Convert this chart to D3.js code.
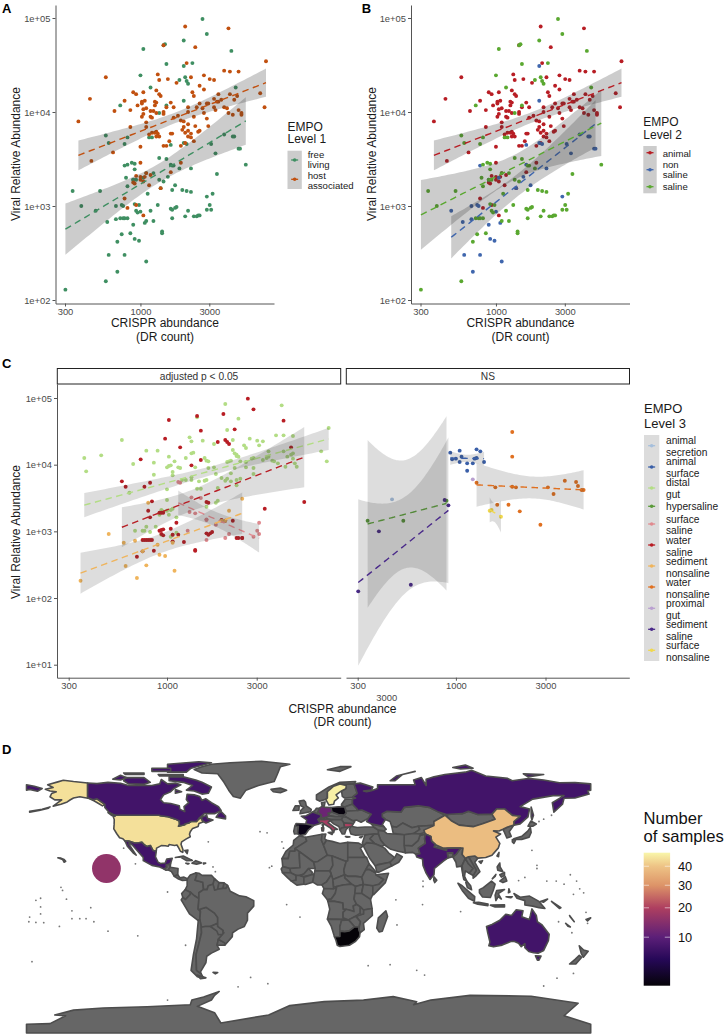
<!DOCTYPE html>
<html><head><meta charset="utf-8">
<script src="https://cdn.jsdelivr.net/npm/d3@7"></script>
<style>html,body{margin:0;padding:0;background:#fff}svg{display:block;font-family:"Liberation Sans",Arial,sans-serif}</style>
</head><body><svg id="c" width="726" height="1036"></svg>
<script>
// All scatter values are [log10(DR count), log10(viral relative abundance)].
// Panels A & B
const animalPts=[[3.31,4.91],[3.61,4.89],[3.38,4.69],[3.16,4.71],[3.87,4.54],[3.32,4.52],[3.58,4.44],[3.62,4.43],[3.68,4.43],[3.12,4.40],[3.44,4.39],[2.76,4.37],[3.13,4.34],[3.19,4.35],[3.35,4.37],[3.48,4.35],[3.51,4.34],[3.25,4.31],[3.41,4.28],[3.44,4.24],[2.65,4.14],[3.36,4.21],[3.37,4.17],[3.54,4.19],[2.95,4.21],[2.97,4.19],[3.02,4.21],[2.89,4.12],[3.11,4.23],[3.13,4.19],[3.14,4.17],[3.01,4.11],[3.03,4.12],[2.98,4.07],[3.01,4.09],[3.10,4.11],[3.11,4.10],[3.10,4.07],[3.21,4.10],[3.18,4.05],[3.16,4.00],[3.23,4.05],[3.02,4.03],[3.04,4.04],[3.07,4.01],[3.09,4.01],[2.93,4.02],[2.82,4.01],[3.02,3.98],[3.01,3.95],[3.07,3.95],[3.08,3.94],[3.11,3.99],[3.04,3.89],[3.04,3.84],[2.93,3.84],[2.57,3.90],[3.16,3.98],[3.23,3.94],[3.26,3.96],[3.33,4.05],[3.33,4.00],[3.37,3.95],[3.39,4.05],[3.43,4.04],[3.46,4.09],[3.47,4.09],[3.51,4.05],[3.52,4.02],[3.54,4.11],[3.56,4.13],[3.58,4.05],[3.60,4.04],[3.61,3.99],[3.64,3.97],[3.65,4.13],[3.67,4.17],[3.62,4.19],[3.68,4.02],[3.70,3.97],[3.86,4.05],[3.83,4.20],[3.70,3.99],[3.46,3.93],[3.47,3.85],[3.41,4.09],[3.44,3.99],[3.51,4.14],[3.53,4.11],[3.28,3.91],[3.30,3.90],[3.33,3.87],[3.38,3.85],[3.30,3.84],[3.29,3.81],[3.33,3.80],[3.35,3.77],[3.40,3.79],[3.41,3.80],[3.31,3.78],[3.33,3.74],[3.35,3.73],[3.37,3.69],[3.31,3.67],[3.28,3.64],[3.21,3.77],[3.22,3.77],[3.20,3.69],[3.16,3.64],[3.18,3.64],[3.08,3.78],[3.10,3.78],[3.11,3.79],[3.12,3.77],[3.06,3.76],[3.13,3.74],[3.11,3.74],[3.00,3.63],[2.81,3.57],[2.66,3.48],[3.00,3.46],[3.28,3.46],[3.21,3.36],[2.97,3.32],[3.00,3.31],[3.03,3.31],[3.04,3.35],[3.07,3.33],[3.00,3.28],[2.96,3.24],[2.95,3.25],[3.02,3.26],[3.06,3.22],[3.14,3.19],[2.89,3.08],[2.91,2.98],[2.97,3.01],[3.02,2.90]];
const nonSalinePts=[[3.30,4.49],[3.30,4.12],[2.89,3.43],[3.21,3.65],[3.30,3.67],[3.32,3.66],[2.69,2.95],[2.83,3.00],[2.87,3.01],[2.88,3.00],[2.77,2.83],[2.83,2.86],[2.95,2.80],[3.03,2.82],[3.00,2.94],[2.78,2.48],[2.89,2.48],[2.84,2.30],[2.96,2.65],[2.99,2.63],[3.04,2.41],[3.14,3.19],[3.19,3.31],[3.24,3.22],[3.46,3.10],[3.52,3.56],[3.65,3.74],[3.68,3.61],[3.69,3.61],[3.02,3.30],[2.95,3.28],[3.21,3.44],[3.35,3.40],[3.49,3.66],[3.58,3.76],[3.64,3.74]];
const salinePts=[[3.43,4.99],[3.46,4.83],[3.30,4.76],[3.63,4.65],[3.17,4.72],[3.16,4.71],[3.02,4.67],[3.18,4.51],[3.36,4.52],[3.00,4.39],[3.31,4.37],[3.27,4.34],[3.32,4.33],[3.33,4.30],[3.66,4.26],[3.07,4.26],[2.86,4.07],[3.18,4.07],[3.13,3.99],[2.76,3.75],[2.78,3.67],[2.89,3.66],[2.91,3.73],[3.06,3.73],[3.08,3.73],[3.13,3.51],[3.18,3.50],[2.90,3.30],[2.91,3.44],[2.94,3.46],[2.96,3.45],[2.96,3.39],[2.97,3.28],[2.95,3.28],[2.91,3.21],[3.09,3.35],[3.04,3.35],[3.13,3.28],[3.16,3.26],[3.22,3.43],[3.23,3.43],[3.27,3.40],[2.53,3.16],[2.72,3.16],[2.59,3.00],[3.22,3.17],[3.29,3.17],[3.32,3.16],[3.35,3.15],[3.05,3.13],[3.12,3.01],[3.50,3.13],[3.48,3.01],[3.46,2.96],[3.49,2.96],[2.96,3.02],[2.99,3.01],[2.97,2.95],[2.98,2.93],[3.07,2.95],[2.86,2.87],[2.88,2.87],[2.89,2.87],[2.91,2.87],[3.22,2.87],[3.31,2.89],[3.33,2.95],[3.37,2.89],[3.39,2.89],[3.40,2.90],[3.41,2.90],[3.21,2.97],[3.22,2.96],[3.24,2.98],[3.25,2.99],[3.09,2.84],[3.04,2.84],[2.93,2.71],[2.87,2.70],[3.15,2.73],[3.15,2.71],[2.84,2.62],[2.76,2.20],[2.48,2.11],[3.73,3.44],[3.53,3.34]];
// Panel C, facet "adjusted p < 0.05"
const distalGut=[[3.31,4.91],[3.61,4.89],[3.38,4.69],[3.16,4.71],[3.86,4.55],[3.32,4.52],[3.58,4.44],[3.62,4.44],[3.67,4.43],[3.12,4.41],[3.44,4.39],[2.76,4.37],[3.13,4.35],[3.19,4.36],[3.35,4.37],[3.48,4.36],[3.51,4.35],[3.25,4.31],[3.41,4.29],[3.42,4.25],[2.65,4.14],[2.56,4.10],[2.57,3.90],[2.82,4.01],[2.89,4.21],[2.95,4.21],[2.93,4.03],[2.93,3.85],[3.01,4.12],[3.00,3.96],[3.01,3.98],[3.02,3.99],[3.03,3.89],[3.03,3.84],[3.04,4.05],[3.06,3.96],[3.07,3.95],[3.10,4.10],[3.13,4.17],[3.14,4.18],[3.15,3.96],[3.20,4.10],[3.22,4.05],[3.21,4.06],[3.22,3.95],[3.25,3.96],[3.26,3.86],[3.29,3.80],[3.31,3.76],[3.32,3.79],[3.34,3.87],[3.34,3.75],[3.36,3.95],[3.37,4.15],[3.37,4.13],[3.35,4.22],[3.36,4.17],[3.38,4.12],[3.32,4.04],[3.33,4.05],[3.34,4.06],[3.39,4.05],[3.42,4.04],[3.45,4.09],[3.46,4.10],[3.42,3.96],[3.46,3.95],[3.46,3.86],[3.39,3.79],[3.37,3.77],[3.37,3.69],[3.27,3.65],[3.27,3.46],[3.26,3.43],[3.21,3.37],[3.18,3.64],[3.16,3.64],[3.13,3.77],[3.13,3.81],[3.10,3.77],[3.08,3.77],[3.17,3.75],[3.20,3.76],[3.21,3.77],[3.00,3.63],[3.00,3.47],[2.80,3.58],[2.97,3.32],[2.96,3.25],[2.98,3.30],[3.00,3.31],[3.02,3.32],[3.03,3.34],[3.01,3.25],[3.05,3.21],[2.97,2.95],[2.89,3.07],[2.88,3.01],[2.87,3.01],[2.94,3.07],[2.91,2.99],[2.83,3.01],[3.03,2.95],[3.02,2.92],[3.05,2.98],[3.54,4.20],[3.49,4.29],[3.51,4.07],[3.53,4.10],[3.54,4.12],[3.56,4.06],[3.57,4.05],[3.59,4.02],[3.62,4.20],[3.63,3.97],[3.64,4.12],[3.66,4.15],[3.67,4.17],[3.67,4.09],[3.68,4.02],[3.69,3.97],[3.82,4.20],[3.85,4.05]];
const waterSaline=[[3.43,4.99],[3.46,4.83],[3.30,4.76],[3.62,4.66],[3.16,4.73],[3.01,4.67],[3.18,4.51],[3.36,4.53],[2.99,4.39],[3.27,4.34],[3.31,4.37],[3.32,4.34],[3.33,4.31],[3.07,4.26],[2.86,4.08],[3.13,3.99],[3.18,4.07],[2.76,3.75],[2.78,3.67],[2.88,3.67],[2.91,3.73],[3.66,4.26],[3.73,3.44],[3.52,3.34],[2.92,3.45],[2.90,3.31],[2.91,3.21],[2.96,3.01],[2.97,3.02],[2.96,3.28],[2.97,3.28],[2.98,3.28],[2.98,3.03],[3.02,3.04],[3.05,3.13],[3.03,2.95],[3.03,2.85],[3.06,2.95],[3.09,2.84],[2.93,2.71],[2.84,2.62],[2.87,2.70],[2.87,2.87],[2.88,2.87],[2.89,2.87],[2.90,2.87],[2.91,2.87],[2.92,2.87],[2.97,2.96],[2.98,2.94],[3.15,2.72],[3.15,2.71],[3.21,2.97],[3.22,2.95],[3.23,2.97],[3.24,2.99],[3.21,3.44],[3.22,3.43],[3.29,3.17],[3.31,3.16],[3.35,3.16],[3.37,2.90],[3.38,2.90],[3.40,2.90],[3.40,2.90]];
const surfaceSaline=[[3.07,3.73],[3.06,3.74],[3.13,3.51],[3.18,3.50],[3.12,3.29],[3.15,3.27],[3.21,3.17],[3.21,3.18],[3.21,2.87],[3.26,3.10],[3.31,2.90],[3.33,2.96],[3.46,2.92],[3.48,3.01],[3.49,2.96],[3.49,3.13],[3.11,3.01]];
const sedimentNonsaline=[[2.54,2.26],[2.69,2.96],[2.77,2.83],[2.78,2.48],[2.89,2.49],[2.84,2.30],[2.83,2.86],[2.90,3.43],[2.95,2.80],[2.96,2.65],[2.99,2.63],[3.04,2.41],[3.03,2.83],[2.87,2.70],[3.33,3.31],[3.40,3.49],[3.29,3.16],[3.31,3.16]];
// Panel C, facet "NS"
const animalSecretion=[[2.66,3.48]];
const animalSurface=[[2.97,4.18],[2.98,4.08],[3.00,4.09],[3.02,4.04],[3.03,4.12],[3.02,4.21],[3.06,4.02],[3.09,4.02],[3.06,3.91],[3.10,4.09],[3.11,4.10],[3.11,4.23],[3.13,4.20],[3.15,4.04]];
const hypersaline=[[2.53,3.16],[2.72,3.16],[2.95,3.46]];
const waterNonsaline=[[3.30,4.49],[3.30,4.12],[3.11,3.73],[3.21,3.66],[3.22,3.40],[3.28,3.40],[3.30,3.67],[3.32,3.66],[3.34,3.30],[3.45,3.10],[3.49,3.66],[3.52,3.56],[3.58,3.76],[3.64,3.74],[3.65,3.68],[3.67,3.62],[3.68,3.62]];
const proximalGut=[[3.09,3.78]];
const sedimentSaline=[[2.48,2.10],[2.59,3.00],[2.76,2.20],[2.94,3.47],[2.96,3.39]];
const surfaceNonsaline=[[3.18,3.31],[3.19,3.32],[3.24,3.22]];

const xTicks=[300,1000,3000], yTicksAB=[1e2,1e3,1e4,1e5], yTicksC=[1e1,1e2,1e3,1e4,1e5];
const legend1=[["free","living"],["host","associated"]];
const legend2=[["animal"],["non","saline"],["saline"]];
const legend3=[["animal","secretion"],["animal","surface"],["distal","gut"],["hypersaline"],["surface","saline"],["water","saline"],["sediment","nonsaline"],["water","nonsaline"],["proximal","gut"],["sediment","saline"],["surface","nonsaline"]];

// Map: sample count per region and outlines [lon,lat]
const legendTicks=[10,20,30,40];
const sampledRegions=[
["USA",44.5,[[[-124.7,48.4],[-123,49],[-95.2,49],[-94.6,48.7],[-89.6,48],[-84.9,46.5],[-82.5,45.3],[-82.4,43],[-83,42],[-79,42.9],[-79,43.4],[-76.5,44],[-75,45],[-71.5,45],[-70,46.7],[-68.3,47.3],[-67.8,45.7],[-67,44.8],[-70,43.7],[-70.5,41.8],[-74,40.6],[-75.5,38.5],[-76,36.9],[-75.5,35.3],[-78,33.9],[-81,32],[-81.4,30.5],[-80.1,26.8],[-80.3,25.3],[-81.8,26],[-82.8,28],[-84,30],[-85.5,29.7],[-89,30.3],[-89.5,29.2],[-91.5,29.5],[-94,29.6],[-97,28],[-97.2,26],[-99.3,26.5],[-101,29.7],[-103,29],[-104.7,30],[-106.5,31.8],[-108.2,31.4],[-111,31.3],[-114.8,32.5],[-117.1,32.5],[-118.5,34],[-120.6,34.6],[-122.4,37.2],[-124.3,40.3],[-124.1,43],[-124,46.2]],
 [[-141,69.6],[-141,60.2],[-137.5,58.9],[-135,59.5],[-130,55.9],[-131.5,55],[-134,56.5],[-137,58.2],[-140,59.7],[-146,60.8],[-150,60],[-152,58.9],[-154,57.5],[-158,56],[-163,54.8],[-160,57],[-157.5,58.8],[-162,58.8],[-165,60.8],[-164,62.8],[-161,64],[-165,64.5],[-168,65.6],[-163,66.7],[-166.5,68.4],[-160,70.3],[-156.5,71.3],[-150,70.5]],
 [[-178,51.5],[-170,52.8],[-165,54.3],[-166,53.5],[-172,52],[-178,51]],[[-160,21.9],[-158,21.6],[-156,20.8],[-155,19.6],[-156,19],[-157,20.8]]]],
["Canada",7.3,[[[-141,69.6],[-135,69.2],[-128,70],[-120,69.4],[-115,68],[-108,68],[-100,68],[-95,69],[-94,71.8],[-90,69],[-85,69.5],[-81.5,68.5],[-86,66],[-88,64],[-92.5,62],[-94.5,59],[-92.5,57],[-88,56.5],[-82.5,55],[-82.2,52.9],[-79,51.3],[-79.5,54.5],[-76.5,57],[-78,59],[-77.5,62.4],[-73,62],[-69.5,61],[-68,58.5],[-65.5,59.5],[-62,57],[-57.5,54.5],[-55.8,52],[-60,50],[-66.5,50],[-70,47],[-65,49],[-64.5,47],[-61,46],[-65.5,44],[-67,45],[-67.8,45.7],[-68.3,47.3],[-70,46.7],[-71.5,45],[-75,45],[-76.5,44],[-79,43.4],[-79,42.9],[-83,42],[-82.4,43],[-82.5,45.3],[-84.9,46.5],[-89.6,48],[-94.6,48.7],[-95.2,49],[-123,49],[-124.7,49.5],[-127.5,51],[-130,54],[-130,55.9],[-135,59.5],[-137.5,58.9],[-141,60.2]],
 [[-80,73.5],[-72,71.5],[-68,70],[-62,67],[-64,63],[-68,62.5],[-73,64.5],[-78,65],[-74,68],[-80,70],[-89,71],[-89,73.5]],[[-117,73],[-105,73],[-101,70],[-105,68.7],[-115,69],[-118,71]],[[-90,76.5],[-78,76.5],[-75,79],[-62,82.5],[-70,83.1],[-90,81.5]],[[-125,72],[-120,74.5],[-116,73],[-120,71.5]],[[-96,75],[-80,75],[-80,74],[-95,74]],[[-118,76],[-105,76],[-105,75],[-117,75]],[[-100,79],[-88,79],[-88,77],[-100,77]],[[-59,47.7],[-53,46.7],[-53,48.5],[-56,51.5],[-57.5,50]],[[-128,50.7],[-124,49],[-123.5,48.4],[-125.5,48.8]],[[-85,65.5],[-81,64],[-85,63]]]],
["Mexico",7.3,[[[-117.1,32.5],[-114.8,32.5],[-111,31.3],[-108.2,31.4],[-106.5,31.8],[-104.7,30],[-103,29],[-101,29.7],[-99.3,26.5],[-97.2,26],[-97.7,22.5],[-96,19],[-94.5,18.2],[-91.5,18.5],[-90.5,21],[-87,21.5],[-88,18.5],[-89,17.9],[-91,17.2],[-90.5,16],[-92.2,14.6],[-95,16],[-100,17],[-105.5,20],[-105.5,22],[-109,26],[-112.5,30],[-114.6,31.5],[-114.6,30.5],[-110,23.5],[-112,25],[-115.5,29]]]],
["Russia",7.3,[[[28,59.4],[30,60],[28,60.5],[31,63],[29,69],[33,69.5],[41,67],[40,65],[35,64.5],[37,64],[40,64.6],[44,66],[44,68.5],[54,68.5],[60,68.5],[68,68.5],[67,71.5],[72,73],[75,68],[75,72],[80,73.5],[87,75],[100,76.5],[104,77.7],[113,74],[127,72.5],[130,71],[140,72.5],[150,71.5],[160,69.7],[170,69.8],[180,69],[180,65],[178,64.5],[179,62.5],[170,60],[163,59.8],[162,56],[156.5,51],[155.5,57],[163,61.5],[156,61.5],[143,59.3],[135,54.5],[141,53],[140,48],[135,43.5],[131,42.7],[131,45],[135,48.4],[130,48.9],[125,53],[120,53],[117,49.7],[108,49.5],[102,51.5],[98,50],[88,49.5],[83,51],[77,54],[70,55],[61,54],[59,51],[50,51.5],[47,50],[47,48],[49,46.3],[47,43],[48,41.8],[40,43.5],[37,45],[38,47],[40,49.6],[34,52.3],[31,52],[31,53],[28,56]],
 [[-180,68.5],[-175,67.5],[-170,66],[-173,64.3],[-178,65.5],[-180,65]],[[142,54.3],[143.5,49],[142.5,46],[142,48]],[[52,71],[56,74],[68,77],[60,75],[55,71]],[[137,75.5],[150,75],[140,73.5]],[[92,79.5],[100,81],[105,79],[97,78.5]]]],
["China",38.5,[[[73.5,39.5],[80,42.5],[80,45],[87,49],[91,45.5],[96,42.7],[105,41.7],[111,43.5],[119,46.5],[117,49.7],[120,53],[125,53],[130,48.9],[135,48.4],[131,45],[131,42.7],[127,41.5],[124,40],[121.5,38.9],[118,39],[122.5,37],[119.5,35],[122,31],[121,28],[117,23.5],[113,22],[108,21.6],[106,23],[102,22.5],[100,21.5],[98,24],[98.5,28],[92,28],[86,28],[81,30.2],[78.5,32.5],[78,35.5],[74.5,37]]]],
["India",7.6,[[[74.5,37],[78,35.5],[78.5,32.5],[81,30.2],[80,28.7],[88,26.5],[88.2,27.9],[92,28],[97,28],[94,24],[92,22.5],[92,25],[88.5,25],[89,21.8],[86,19.7],[80.3,15],[80,11],[77.5,8],[75,12],[73,17],[72.7,21],[69,22.3],[68.5,24],[71,24.5],[70,28],[74.5,31],[74,34]]]],
["Australia",7.3,[[[113.5,-22],[114.3,-26],[115.7,-32],[115,-34.3],[118,-35],[123.5,-33.9],[129,-31.6],[131,-31.5],[134,-32.7],[135.7,-34.9],[138,-33],[138,-35.6],[140.5,-38],[143.5,-38.8],[146.4,-39.1],[150,-37.3],[153,-31],[153.5,-27],[149,-21],[146,-19],[145.3,-15],[142.5,-10.8],[141.5,-15],[140.8,-17.5],[136,-15.8],[136.8,-12],[132.5,-11.3],[129.5,-15],[125.8,-14.2],[122,-18],[117,-20.7]],[[144.7,-40.7],[148.3,-40.9],[147,-43.5],[146,-43.5]]]],
["Sweden",47,[[[11,59],[12,60],[12,64],[16,67.5],[20,69],[24,68],[23.8,66],[21,64.5],[17.5,62],[19,60],[16.5,58],[16,56],[13,55.5]]]],
["Germany",11.6,[[[6,51],[7,53.5],[8.7,54.8],[11,54],[14.2,53.9],[15,51],[12.3,50.3],[13.5,48.6],[10,47.4],[7.5,47.5],[8.2,49]]]],
["France",7,[[[-1.8,43.4],[-1.2,46],[-4.7,48.4],[-1.5,48.7],[2.5,51],[8.2,49],[7.5,47.5],[6,46.3],[7.5,43.8],[3.2,42.4]]]],
["Spain",1.5,[[[-8.8,42],[-8,43.7],[-1.8,43.4],[3.2,42.4],[0,39.7],[-2,36.8],[-5.5,36],[-7,37.2],[-6.5,42]]]],
["Poland",1.2,[[[14.2,53.9],[19,54.4],[23,54.3],[24,50.5],[22.7,49.1],[19,49.4],[15,51]]]],
["South Africa",1,[[[16.5,-28.6],[20,-28.4],[20,-25],[23,-25.3],[26,-24.8],[29.3,-22.2],[32,-22.3],[32,-24],[32.8,-26],[32.5,-28.5],[30,-31.5],[26,-34],[20,-34.8],[18.3,-34],[17.5,-31]]]],
["Italy",19,[[[7.5,43.8],[6,46.3],[10,46.2],[13,46.5],[13.7,45.6],[12.4,44.3],[16,41.5],[18.5,40],[16.5,39.7],[16,38],[14,40.8],[10.5,43],[8.5,44.4]],[[12.5,38],[15.6,38.2],[15,36.7]],[[8.3,41],[9.7,41],[9.5,39],[8.5,39]]]],
["Bulgaria",20,[[[22.5,44],[28.5,43.6],[27.7,42],[26,41.7],[23,41.3]]]]
];
const oceanSite=[-129,15,16];
const greyLand=[
[[-73,78.2],[-68,76],[-58,75.5],[-54,70],[-51,65],[-48,61],[-43.5,59.9],[-40,65],[-32,68],[-22,70.5],[-20,75],[-18,80],[-12,81.5],[-30,83.5],[-50,82.5],[-62,81.5],[-68,80]],
[[-92.2,14.6],[-90.5,16],[-91,17.2],[-89,17.9],[-88.3,15.8],[-89.5,14],[-91,13.9]],[[-89,17.9],[-88,18.5],[-88.3,15.8]],[[-88.3,15.8],[-83.3,15],[-83.5,11],[-85.7,10],[-87.5,13],[-89.5,14]],[[-83.5,11],[-82,9],[-79.5,9.5],[-77.3,8.5],[-78,7.5],[-80.5,7.3],[-83,8.3],[-85.7,10]],
[[-85,22],[-80,23],[-74.2,20.2],[-77.7,19.9],[-82,22.4]],[[-74.4,18.4],[-72,20],[-68.4,18.6],[-71.5,17.7]],[[-78.3,18.4],[-76.3,18.2],[-77,17.8]],[[-67.2,18.5],[-65.7,18.4],[-67,17.9]],[[-79,26.5],[-77,26.7],[-77.5,24.5]],
[[-77.3,8.5],[-75.5,10.8],[-72,12.2],[-71.3,11],[-72.4,7.5],[-67.5,6.2],[-67,1.5],[-70,-0.5],[-70,-4.2],[-72.9,-2.4],[-75.5,-0.1],[-78.8,1.4],[-77.5,4],[-77.5,7]],
[[-71.3,11],[-72,12.2],[-70,12],[-68,10.6],[-62,10.7],[-60,8.5],[-61,5],[-64,4],[-64.8,1.5],[-67,1.5],[-67.5,6.2],[-72.4,7.5]],
[[-60,8.5],[-57.2,6],[-58,1.5],[-60,1.2],[-61,5]],[[-57.2,6],[-54,5.8],[-54.5,2.3],[-58,1.8]],[[-54,5.8],[-51.7,4.2],[-52.8,2.2],[-54.5,2.3]],
[[-78.8,1.4],[-75.5,-0.1],[-75.5,-1.5],[-78.5,-4.8],[-80.3,-3.4],[-81,-1]],
[[-75.5,-0.1],[-72.9,-2.4],[-70,-4.2],[-70.5,-11],[-69,-12.5],[-69.4,-17.5],[-70.4,-18.3],[-76,-14],[-81.3,-5],[-80.3,-3.4],[-78.5,-4.8],[-75.5,-1.5]],
[[-69.4,-11],[-65.3,-9.8],[-60,-13.5],[-58,-16.3],[-58,-20],[-62.6,-22],[-66,-22],[-68.5,-22.5],[-69.4,-17.5],[-69,-12.5]],
[[-69.4,-17.5],[-68.5,-22.5],[-68.3,-26],[-70,-33],[-71.8,-40],[-71.5,-50],[-68.5,-52.3],[-67,-55],[-71,-54],[-75,-50],[-73.5,-40],[-71.5,-30],[-70.4,-18.3]],
[[-66,-22],[-62.6,-22],[-57.6,-25.3],[-54,-26],[-57.6,-30.2],[-58.4,-34],[-57,-36.5],[-62,-39],[-65,-41],[-65.5,-45],[-69,-51],[-68.5,-52.3],[-71.5,-50],[-71.8,-40],[-70,-33],[-68.3,-26],[-68.5,-22.5]],
[[-58,-20],[-58,-22],[-54.5,-24.5],[-54.6,-27],[-57.6,-27.3],[-58.5,-25],[-62.6,-22]],[[-57.6,-30.2],[-53.5,-32.5],[-53.5,-34],[-58.4,-34]],
[[-64,4],[-61,5],[-60,1.2],[-58,1.8],[-54.5,2.3],[-52.8,2.2],[-51.7,4.2],[-50,0.5],[-44,-2.5],[-40,-3],[-35,-5.5],[-35,-9],[-39,-13.5],[-39,-18],[-41,-22],[-45,-23.7],[-48.5,-26],[-48.7,-28.5],[-53.5,-34],[-53.5,-32.5],[-57.6,-30.2],[-54,-26],[-54.6,-25.5],[-54.5,-24.5],[-58,-22],[-58,-16.3],[-60,-13.5],[-65.3,-9.8],[-69.4,-11],[-70.5,-11],[-70,-4.2],[-70,-0.5],[-67,1.5],[-64.8,1.5]],
[[-61,-51.3],[-58,-51.4],[-59.5,-52.3]],[[-71,-53],[-65.5,-54.8],[-69,-55.3]],
[[-5.9,35.8],[-2,35],[-1.2,32.5],[-8.7,27.7],[-8.7,26],[-12,26],[-13,21.3],[-17,21.3],[-14.5,26],[-9.8,30],[-9.5,33]],
[[-2,35],[8.6,36.9],[8.2,33],[9.5,30],[12,23.5],[6,19.5],[3.3,19],[-4.8,25],[-8.7,27.7],[-1.2,32.5]],[[8.6,36.9],[11,37],[10.2,34],[11.5,33],[9.5,30],[8.2,33]],[[11.5,33],[15,32.3],[20,31],[25,31.7],[25,20],[24,19.5],[15,23],[12,23.5],[9.5,30]],[[25,31.7],[32,31.2],[34.9,29.5],[33,28],[35.7,23],[37,22],[25,22]],
[[-17,21.3],[-13,21.3],[-12,26],[-8.7,26],[-8.7,27.7],[-4.8,25],[-6,25],[-5.5,15.5],[-12,15],[-16.5,16.2]],[[-4.8,25],[3.3,19],[4.2,15],[0,15],[-3,11.5],[-5.5,10.5],[-8,10.5],[-11.5,12.3],[-12,15],[-5.5,15.5],[-6,25]],[[3.3,19],[6,19.5],[12,23.5],[15,23],[15.5,17],[13.6,13.5],[4,13.5],[4.2,15]],[[15,23],[24,19.5],[22.5,14],[23,11],[15.5,8],[13.6,13.5],[15.5,17]],
[[24,19.5],[25,20],[25,22],[37,22],[38.6,18],[36.5,14.3],[34,9.5],[30,10],[25,10],[23,11],[22.5,14]],[[23,9],[27.4,5],[30,3.5],[35,5],[34,9.5],[30,10],[25,10],[23,11]],
[[-17.5,14.7],[-16.5,16.2],[-12,15],[-11.5,12.3],[-16.7,12.4]],[[-16.7,12.4],[-11.5,12.3],[-8,10.5],[-8,7.5],[-11,7],[-13.3,9]],[[-11,7],[-8,7.5],[-8,10.5],[-5.5,10.5],[-3,9.5],[-3,5],[-7.5,4.4]],[[-5.5,10.5],[-3,9.8],[2,11],[2.4,12.5],[0,15],[-3,11.5]],[[-3,9.5],[2,11],[3.6,11.7],[2.7,6.3],[-2,4.8],[-3,5]],[[2.7,6.3],[3.6,11.7],[4,13.5],[13.6,13.5],[14.5,11],[11.5,6.5],[8.5,4.5],[5.5,4.5]],[[8.5,4.5],[11.5,6.5],[14.5,11],[13.6,13.5],[15.5,8],[16,2],[9.8,2.2]],[[15.5,8],[23,11],[23,9],[27.4,5],[22,4.5],[16,3]],[[9.8,2.2],[16,2],[18,3.5],[17,-1],[14.5,-4.5],[12,-5],[8.8,-1]],
[[12,-5],[14.5,-4.5],[17,-1],[18,3.5],[22,4.5],[27.4,5],[30,3.5],[29.5,-1],[29,-4.5],[30.7,-8],[28.5,-9],[29,-12.5],[27,-11.8],[22,-11],[21.8,-7],[16.5,-6],[12.3,-6]],[[30,3.5],[35,5],[34,0],[34,-1],[29.5,-1]],[[35,5],[41,4],[41,-1.5],[39.5,-4.7],[34,-1],[34,0]],[[34,9.5],[36.5,14.3],[38.6,14.5],[42.5,12.5],[43,11],[48,8],[45,5],[42,4],[41,4],[35,5]],[[36.5,14.3],[38.6,18],[43,12.8],[42.5,12.5],[38.6,14.5]],[[43,11],[51,12],[49,6],[41.5,-1.7],[41,-1.5],[41,4],[45,5],[48,8]],[[34,-1],[39.5,-4.7],[40.5,-10.5],[35,-11.5],[33,-9.5],[30.7,-8],[29,-4.5],[29.5,-1]],
[[12.3,-6],[16.5,-6],[21.8,-7],[22,-11],[24,-11],[22,-13],[22,-16.5],[23.4,-17.6],[12,-17.3],[13.5,-11]],[[22,-13],[24,-11],[27,-11.8],[29,-12.5],[28.5,-9],[30.7,-8],[33,-9.5],[33,-13.5],[30,-15.5],[25.5,-17.8],[22,-16.5]],[[40.5,-10.5],[40.7,-15],[35,-20],[35.5,-24],[32.8,-26],[32,-24],[33,-19],[30.5,-15.6],[33,-14.5],[35,-14],[35,-11.5]],[[33,-9.5],[35,-11.5],[35,-14],[33,-14.5]],[[25.5,-17.8],[30,-15.5],[33,-19],[32,-22.3],[29.3,-22.2]],[[12,-17.3],[23.4,-17.6],[25,-17.8],[21,-18.2],[20,-22],[20,-28.4],[16.5,-28.6],[14.5,-22]],[[20,-22],[21,-18.2],[25.5,-17.8],[29.3,-22.2],[26,-24.8],[23,-25.3],[20,-25]],[[49.3,-12],[50.4,-15.7],[47,-25],[45,-25.5],[43.5,-23],[44.5,-16.5]],
[[-9.5,38.7],[-8.8,42],[-6.5,42],[-7,37.2],[-9,37]],[[2.5,51],[4,52],[5,53.4],[7,53.5],[6,51],[5.8,49.5],[8.2,49]],[[-5.5,50],[1.3,51.2],[1.7,52.7],[-1.5,55],[-2,57.5],[-3,58.6],[-6,58],[-5,55],[-3,54],[-5,52]],[[-10,52],[-6.2,52.2],[-6,55],[-8.5,55]],[[-24,65.5],[-18,66.3],[-14,65],[-18,63.4],[-22.5,64]],[[5,59],[5,62],[13,67],[20,70],[30,70.5],[29,69],[24,68.8],[20,69],[16,67.5],[12,64],[12,60],[10.7,59],[7,58]],[[24,68],[24,68.8],[29,69],[31,63],[28,60.5],[23,60],[21.5,61],[21,64.5],[23.8,66]],[[8.7,54.8],[8.2,57],[10.5,57.5],[10,54.9]],[[21,56],[23.5,59.3],[28,59.4],[28,56],[26.5,55.5],[23,54.3],[21,55]],[[23,54.3],[26.5,55.5],[28,56],[31,53],[31,52],[24,51.5]],[[24,50.5],[24,51.5],[31,52],[34,52.3],[40,49.6],[38,47],[33.5,44.5],[30.5,46],[28,45.5],[24,47.8],[22.7,49.1]],[[12.3,50.3],[15,51],[19,49.4],[22.7,49.1],[22,48],[17,48],[13.5,48.6]],[[10,47.4],[13.5,48.6],[17,48],[22,48],[21,46.2],[16.5,46.3],[13,46.5]],[[6,46.3],[7.5,47.5],[10,47.4],[10,46.2]],[[20,39.7],[21,41],[26,41.7],[24,40],[23,37],[21.5,37]],[[22,48],[24,47.8],[28,45.5],[29.5,45],[28.5,43.6],[22.5,44],[21,46.2]],[[13.7,45.6],[16.5,46.3],[21,46.2],[22.5,44],[23,41.3],[21,41],[20,39.7],[19.3,41.8],[16,43.5]],[[23.5,35.4],[26.3,35.2],[24.5,34.9]],[[32.5,35],[34.5,35.6],[33.5,34.6]],[[8.6,43],[9.5,43],[9.3,41.4]],
[[12,78],[20,80],[27,80],[20,77]],
[[47,50],[50,51.5],[59,51],[61,54],[70,55],[77,54],[83,51],[87,49],[80,45],[80,42.5],[70,42],[66,41],[60,44],[56,41.3],[53,42],[52,45],[49,46.3],[47,48]],[[56,41.3],[60,44],[66,41],[70,42],[71,40],[67,37.3],[61,36.5],[54,37.5],[53,42]],[[70,42],[80,42.5],[74,38],[71,37],[67,37.3],[71,40]],[[87.8,49],[92,50.5],[98,50],[102,51.5],[108,49.5],[117,49.7],[119,46.5],[111,43.5],[105,41.7],[96,42.7],[91,45.5]],[[60.9,29.8],[61.7,25],[66.5,25.3],[68.5,24],[71,24.5],[70,28],[74.5,31],[74,34],[74.5,37],[71,36],[70,33],[66,29.5]],[[61,36.5],[67,37.3],[71,37],[74.5,37],[71,36],[70,33],[66,29.5],[60.9,29.8]],[[44.5,39.5],[48,39],[50,37.3],[54,37],[61,36.5],[60.9,29.8],[61.7,25],[57,26],[52,27.5],[48.5,30],[46,33],[44.5,37]],[[39,34],[42,37.2],[44.5,37],[46,33],[48.5,30],[46.5,29],[42,31]],[[34.9,29.5],[37,31.5],[42,31],[46.5,29],[48.5,28],[51,25],[55,22],[52,19],[44,17.3],[42.7,16.5],[39,21.5]],[[42.7,16.5],[44,17.3],[52,19],[53,16.6],[45,12.7],[43.5,12.7]],[[55,22],[56.3,24.5],[59.8,22.5],[57.5,19],[53,16.6],[52,19]],[[36,36.5],[42,37.2],[39,34],[42,31],[37,31.5],[34.9,29.5],[34.3,31.3]],[[26,40],[27,42],[31,41.2],[36,41.5],[41.5,41.5],[44.5,39.5],[44.5,37],[42,37.2],[36,36.5],[30,36.2],[27,37]],[[40,43.5],[48,41.8],[49.5,40],[48,39],[44.5,39.5],[41.5,41.5]],[[80,28.7],[81,30.2],[86,28],[88.2,27.9],[88,26.5]],[[88.5,25],[92,25],[92,22.5],[89,21.8]],[[92,22.5],[94,24],[97,28],[98.5,28],[98,24],[100,21.5],[98,17],[98.5,10.5],[97.5,16.5],[94.5,16],[94,19]],[[100,21.5],[102,18],[105,15],[102.5,12],[100,13.5],[99.5,10],[101,6.8],[99,8],[98.5,10.5],[98,17]],[[102,22.5],[106,23],[108,21.6],[106,19],[109.3,13],[107,10.5],[105,8.8],[105,10.5],[107,14]],[[102,22.5],[107,14],[105,10.5],[102.5,12],[105,15],[102,18],[100,21.5]],[[101,6.8],[103.4,4],[104,1.4],[101.3,2.8],[100.3,6]],[[127,41.5],[131,42.7],[128,38.5],[129.3,35.5],[126.5,34.5],[125,38],[124,40]],[[130.9,34],[136,35.5],[140,39],[141.5,41.3],[142,38],[140.7,35],[136,33.6],[132,33.5]],[[130,33.5],[132,33],[131,31],[130,32]],[[140,42],[141.8,45.3],[145.3,43.4],[143,42]],[[120.2,23],[121.5,25.3],[121.2,22.5]],[[108.7,19.5],[111,20],[110,18.3]],[[120.3,16],[122,18.5],[122.2,16],[124,13],[120.7,13.9]],[[122,7],[125.5,9.8],[126.5,7],[124,6]],[[122,11],[125,12.5],[125,10.5],[123,9.5]],[[117.2,8.4],[119.5,11.2],[119,10]],[[95.3,5.6],[98,4],[103.7,-1],[106,-3],[105.8,-5.9],[102,-4],[98,1]],[[105.2,-6.8],[108.5,-6.6],[114.5,-7.7],[114.4,-8.7],[108,-7.8]],[[109,1.5],[111.5,2.8],[116.7,7],[119,5],[117.8,1],[116,-3.5],[111,-3.2],[109,-0.5]],[[119.5,-5.5],[119,-2],[120,1],[125,1.5],[121,-1],[123,-4.5],[121,-3]],[[116,-8.4],[125,-8.2],[125,-9.5],[119,-9.5]],[[131,-1],[135,-3.3],[141,-2.6],[147,-6],[150.8,-10.5],[147,-10],[143,-9],[138,-8.3],[138,-5.5],[133,-4]],[[127.8,2],[128.5,0],[127.5,-0.5]],[[126,-3],[130,-3],[129,-3.7]],[[148,-6],[152.5,-4.5],[150,-6.5]],[[80,9.7],[81.8,7.5],[80.5,6],[79.8,7.5]],[[172.7,-34.4],[175.5,-37],[178.4,-37.8],[175.3,-41.6],[174,-39.3]],[[172.7,-40.5],[174.3,-41.7],[170.5,-46],[166.5,-46],[170,-43]],[[164,-20],[167,-22.3],[165.5,-21.8]],[[155,-6],[161,-10],[160,-10.5],[156,-7]],[[166.5,-15],[169.5,-19],[167,-16]],[[177,-17.5],[180,-16.5],[178,-18.5]],
[[-180,-90],[-180,-84.4],[-165,-84],[-155,-79],[-162,-78.5],[-150,-75.4],[-131,-74],[-103,-73.2],[-75.5,-72],[-74.5,-69],[-67,-67],[-57,-63.5],[-60,-66],[-62,-69],[-71,-73],[-60,-77],[-56,-83.6],[-25.5,-78.5],[-12,-72.5],[10,-70],[35,-69],[54,-66.8],[69,-70],[67,-72],[78,-69],[103,-66],[142,-66.5],[172,-71],[163,-79],[180,-84.4],[180,-90]]
];
const tinyIslands=[[-171,-4],[-174,-5.3],[-154.5,-4.6],[-171,-9.5],[-151,-12],[-139,-10],[-171,-14],[-178,-16],[-178.5,-19],[-174,-19.4],[-169,-19.6],[-151,-17],[-146,-17],[-142,-17],[-137,-19],[-159,-22],[-128,-25],[-109,-28],[-78.5,-34],[-176.5,-44.5],[-158,3],[-157,1],[-118,28],[-110.5,18],[-64,32],[-90,0],[-59.5,13],[-61,16],[-25,15.5],[-23.5,16.5],[-14,-8],[-5.5,-16],[-26,-58.5],[-37,-54.5],[-45,-60.5],[-90,-69],[-31,38.5],[-26.5,37.8],[-16,28],[-17,32],[55.7,-5],[72.7,-8],[73,7],[73,3.5],[97,-12.5],[145.7,15],[145.7,17],[134,7.3],[138,9.3],[152,7],[158,7],[163,5],[167,11],[171,7],[173,2],[169,-1.5],[175.5,-0.5],[177,-13],[168,-26],[158.5,-55],[69,-50],[74,-53],[38,-47],[52,-46.4],[56.4,-21],[159.5,-19],[142.5,26.6],[169,-52],[150,-60],[147,45],[150,46.5],[155,49],[178,-20]];

const svg=d3.select("#c");
const FONT_TICK=9.4, TICK="#4a4a4a", AXIS="#555", POINT_R=1.95;
function text(g,x,y,s,size,opt={}){return g.append("text").attr("x",x).attr("y",y).attr("font-size",size).attr("fill",opt.fill||"#1a1a1a").attr("text-anchor",opt.anchor||"start").attr("font-weight",opt.weight||"normal").attr("transform",opt.rot?`rotate(-90 ${x} ${y})`:null).text(s);}
const tq=df=>({1:12.706,2:4.303,3:3.182,4:2.776,5:2.571,6:2.447,7:2.365,8:2.306,9:2.262,10:2.228,11:2.201,12:2.179,13:2.16,14:2.145,15:2.131,16:2.12}[df]||(df<30?2.06:df<60?2.0:1.98));
function lm(pts){
  const n=pts.length,xb=d3.mean(pts,d=>d[0]),yb=d3.mean(pts,d=>d[1]);
  const sxx=d3.sum(pts,d=>(d[0]-xb)**2),b=d3.sum(pts,d=>(d[0]-xb)*(d[1]-yb))/sxx,a=yb-b*xb;
  const s=Math.sqrt(d3.sum(pts,d=>(d[1]-a-b*d[0])**2)/(n-2)),t=tq(n-2);
  const [x0,x1]=d3.extent(pts,d=>d[0]);
  return d3.range(61).map(i=>{const x=x0+(x1-x0)*i/60,f=a+b*x,h=t*s*Math.sqrt(1/n+(x-xb)**2/sxx);return {x,f,lo:f-h,hi:f+h};});
}
function addPoints(g,sx,sy,groups,r){
  groups.forEach(gr=>g.append("g").selectAll("circle").data(gr.pts).join("circle").attr("cx",d=>sx(10**d[0])).attr("cy",d=>sy(10**d[1])).attr("r",r).attr("fill",gr.color));
}
function addFits(g,sx,sy,groups,alpha){
  groups.filter(gr=>gr.pts.length>2).forEach(gr=>{
    const f=lm(gr.pts);
    g.append("path").attr("d",d3.area().x(d=>sx(10**d.x)).y0(d=>sy(10**d.lo)).y1(d=>sy(10**d.hi))(f)).attr("fill","#333").attr("opacity",alpha);
    g.append("path").attr("d",d3.line().x(d=>sx(10**d.x)).y(d=>sy(10**d.f))(f)).attr("fill","none").attr("stroke",gr.color).attr("stroke-width",1.4).attr("stroke-dasharray","6.5,4.5");
  });
}
function styleAxis(a){a.selectAll(".domain").attr("stroke",AXIS).attr("stroke-width",1);a.selectAll("line").attr("stroke",AXIS);a.selectAll("text").attr("font-size",FONT_TICK).attr("fill",TICK).attr("font-family","'Liberation Sans',Arial,sans-serif");}
const fmtY=d=>"1e+0"+Math.round(Math.log10(d));
function xAxis(sx,y,l,r){const s=sx.copy().domain([sx.invert(l),sx.invert(r)]).range([l,r]);
  styleAxis(svg.append("g").attr("transform",`translate(0,${y})`).call(d3.axisBottom(s).tickValues(xTicks).tickFormat(d3.format("d")).tickSize(3).tickSizeOuter(0).tickPadding(2)));}
function yAxis(sy,x,t,b,ticks){const s=sy.copy().domain([sy.invert(b),sy.invert(t)]).range([b,t]);
  styleAxis(svg.append("g").attr("transform",`translate(${x},0)`).call(d3.axisLeft(s).tickValues(ticks).tickFormat(fmtY).tickSize(3).tickSizeOuter(0).tickPadding(2)));}
function legend(x,title,titleY,key,items,textX,keyColor){
  const g=svg.append("g");
  title.forEach((t,i)=>text(g,x,titleY[i],t,key.titleSize||12));
  g.append("rect").attr("x",x).attr("y",key.y0).attr("width",key.w).attr("height",key.y1-key.y0).attr("fill",keyColor);
  items.forEach(it=>{
    g.append("line").attr("x1",x+key.w/2-3.5).attr("x2",x+key.w/2+3.5).attr("y1",it.y).attr("y2",it.y).attr("stroke",it.color).attr("stroke-width",1.3);
    g.append("circle").attr("cx",x+key.w/2).attr("cy",it.y).attr("r",1.8).attr("fill",it.color);
    it.text.forEach((t,i)=>text(g,textX,it.base[i],t,key.size||9.6));
  });
}
// Panels A, B
const colA={free:"#3f8f62",host:"#c1500f"}, colB={animal:"#b81d24",non:"#3f66ad",saline:"#5aa830"};
function panelAB(dx,groups){
  const g=svg.append("g");
  const sx=d3.scaleLog().domain([300,3000]).range([65+dx,209.3+dx]);
  const sy=d3.scaleLog().domain([100,1e5]).range([300,18]);
  addPoints(g,sx,sy,groups,POINT_R);
  addFits(g,sx,sy,groups,.25);
  xAxis(sx,303.5,55.5+dx,274+dx);
  yAxis(sy,55.5+dx,5,303.5,yTicksAB);
  text(svg,165+dx,327,"CRISPR abundance",12,{anchor:"middle"});
  text(svg,165+dx,340.5,"(DR count)",12,{anchor:"middle"});
  text(svg,20+dx,154,"Viral Relative Abundance",12,{anchor:"middle",rot:true});
}
panelAB(0,[{pts:salinePts.concat(nonSalinePts),color:colA.free},{pts:animalPts,color:colA.host}]);
panelAB(355.5,[{pts:animalPts,color:colB.animal},{pts:nonSalinePts,color:colB.non},{pts:salinePts,color:colB.saline}]);
legend(287.5,["EMPO","Level 1"],[130.7,143.3],{y0:150.7,y1:189,w:14.3},[
 {y:160,color:colA.free,text:legend1[0],base:[158,168.3]},{y:179.3,color:colA.host,text:legend1[1],base:[178.8,188.7]}],307.7,"#cccccc");
legend(643.3,["EMPO","Level 2"],[126,138.7],{y0:146,y1:193.3,w:13.4},[
 {y:152.7,color:colB.animal,text:legend2[0],base:[156.7]},{y:169.7,color:colB.non,text:legend2[1],base:[167.7,178.3]},{y:186.7,color:colB.saline,text:legend2[2],base:[189.7]}],662.7,"#cccccc");
// Panel C
const colC=["#a6bfdc","#3a5fa8","#b3dd85","#5a9a3a","#e08a8f","#b81d24","#efb45c","#e07020","#b9a0d0","#4a2a8a","#f0d84e"];
const syC=d3.scaleLog().domain([10,1e5]).range([664.7,398]);
const sxL=d3.scaleLog().domain([300,3000]).range([68.7,256.7]);
const sxR=d3.scaleLog().domain([300,3000]).range([357.7,545.5]);
const gL=svg.append("g"),gR=svg.append("g");
const groupsL=[{pts:distalGut,color:colC[2]},{pts:surfaceSaline,color:colC[4]},{pts:waterSaline,color:colC[5]},{pts:sedimentNonsaline,color:colC[6]}];
const groupsR=[{pts:animalSecretion,color:colC[0]},{pts:animalSurface,color:colC[1]},{pts:hypersaline,color:colC[3]},{pts:waterNonsaline,color:colC[7]},{pts:proximalGut,color:colC[8]},{pts:sedimentSaline,color:colC[9]},{pts:surfaceNonsaline,color:colC[10]}];
addPoints(gL,sxL,syC,groupsL,POINT_R);addFits(gL,sxL,syC,groupsL,.17);
addPoints(gR,sxR,syC,groupsR,POINT_R);addFits(gR,sxR,syC,groupsR,.17);
xAxis(sxL,677.7,57,340.7);xAxis(sxR,677.7,346,629.3);
yAxis(syC,57,384,677.7,yTicksC);
[[57.3,340.7,"adjusted p < 0.05"],[346.3,629.5,"NS"]].forEach(([a,b,s])=>{
  svg.append("rect").attr("x",a).attr("y",368.5).attr("width",b-a).attr("height",15.5).attr("fill","#fff").attr("stroke","#222").attr("stroke-width",1);
  text(svg,(a+b)/2,380,s,10.2,{anchor:"middle",fill:"#333"});
});
text(svg,386.7,701,"3000",9.4,{anchor:"middle",fill:TICK});
text(svg,342.5,713,"CRISPR abundance",12,{anchor:"middle"});
text(svg,342.5,726,"(DR count)",12,{anchor:"middle"});
text(svg,20,532,"Viral Relative Abundance",12,{anchor:"middle",rot:true});
const keyYs=[445.7,467,488,506.3,524,545,566,587,608.3,629.3,650.3];
const baseYs=[[444,455.7],[465.3,476.7],[486.3,497.7],[510],[522.5,534],[544,555.5],[565,576.5],[586,597.5],[607,618.5],[628,639.5],[649,660.5]];
legend(644,["EMPO","Level 3"],[413,427.7],{y0:435,y1:661,w:15.3,size:10.2,titleSize:13},legend3.map((t,i)=>({y:keyYs[i],color:colC[i],text:t,base:baseYs[i]})),666,"#dcdcdc");
// Panel letters
[["A",2,12.7],["B",361.7,12.7],["C",2,367.7],["D",2,754]].forEach(([s,x,y])=>text(svg,x,y,s,13,{weight:"bold",fill:"#000"}));
// Map D
const lonS=d3.scaleLinear().domain([-180,180]).range([26.5,590.7]);
const latS=d3.scaleLinear().domain([-90,90]).range([1033,751]);
const ringPath=d3.line().x(d=>lonS(d[0])).y(d=>latS(d[1]));
const closed=r=>ringPath(r)+"Z";
const stops=["#050308","#260858","#5c1f78","#ae3f60","#dd9468","#eec486","#f9f6aa"], stopT=[0,.2,.365,.585,.755,.9,1];
const tScale=d3.scaleSqrt().domain([1,48]).range([0,1]);
const stopScale=d3.scaleLinear().domain(stopT).range(stops).interpolate(d3.interpolateRgb);
const countColor=v=>stopScale(tScale(v));
const gm=svg.append("g").attr("stroke","#4d4d4d").attr("stroke-width",1.6).attr("stroke-linejoin","round");
gm.append("g").selectAll("path").data(greyLand).join("path").attr("d",closed).attr("fill","#666");
gm.append("g").selectAll("circle").data(tinyIslands).join("circle").attr("cx",d=>lonS(d[0])).attr("cy",d=>latS(d[1])).attr("r",.9).attr("fill","#777").attr("stroke","none");
sampledRegions.forEach(([,v,rings])=>gm.append("g").selectAll("path").data(rings).join("path").attr("d",closed).attr("fill",countColor(v)));
svg.append("circle").attr("cx",lonS(oceanSite[0])).attr("cy",latS(oceanSite[1])).attr("r",14.4).attr("fill",countColor(oceanSite[2]));
// colourbar
const barY=d3.scaleSqrt().domain([1,48]).range([985.7,852.7]);
const defs=svg.append("defs").append("linearGradient").attr("id","bar").attr("x1",0).attr("x2",0).attr("y1",1).attr("y2",0);
stopT.forEach((t,i)=>defs.append("stop").attr("offset",t).attr("stop-color",stops[i]));
svg.append("rect").attr("x",643.7).attr("y",852.7).attr("width",26.4).attr("height",133).attr("fill","url(#bar)");
legendTicks.forEach(v=>{
  [[643.7,649],[664.8,670.1]].forEach(([a,b])=>svg.append("line").attr("x1",a).attr("x2",b).attr("y1",barY(v)).attr("y2",barY(v)).attr("stroke","#fff").attr("stroke-opacity",.55));
  text(svg,678,barY(v)+4.5,v,12.8,{fill:"#111"});
});
text(svg,643.5,824.3,"Number",16.6,{fill:"#111"});
text(svg,643.5,842.3,"of samples",16.6,{fill:"#111"});
</script></body></html>
